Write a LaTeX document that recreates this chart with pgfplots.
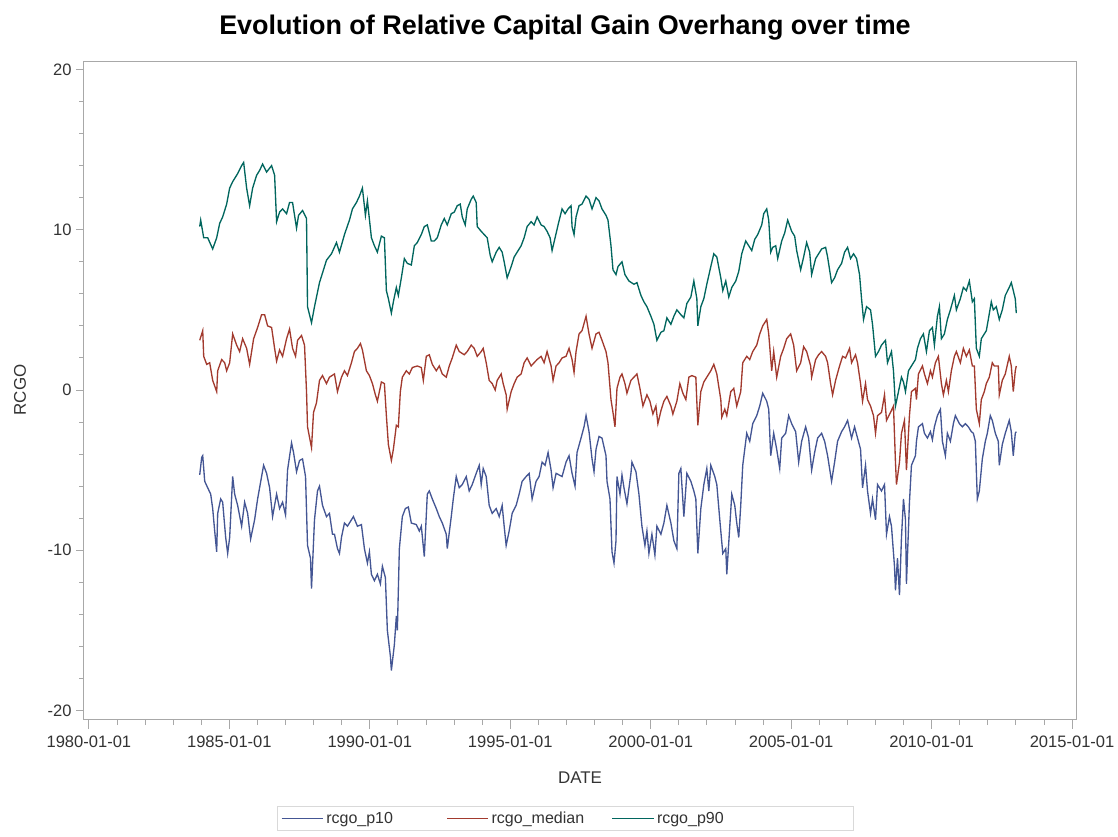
\documentclass[border=0pt]{standalone}
\usepackage{fontspec}
\setmainfont{Liberation Sans}
\usepackage{pgfplots}
\usepackage{pgfplotstable}
\pgfplotsset{compat=1.18}

\definecolor{sasblue}{HTML}{445694}
\definecolor{sasred}{HTML}{A23A2E}
\definecolor{sasteal}{HTML}{01665E}
\definecolor{framegray}{HTML}{A8A8A8}
\definecolor{txt}{HTML}{333333}

% rcgo_p10
\pgfplotstableread{
date value
1983.945 -5.3
1984.016 -4.2
1984.052 -4.1
1984.123 -5.7
1984.229 -6.1
1984.336 -6.5
1984.407 -7.4
1984.478 -8.8
1984.549 -10.1
1984.585 -7.7
1984.691 -6.8
1984.762 -7.0
1984.869 -9.2
1984.940 -10.2
1985.011 -9.2
1985.118 -5.4
1985.189 -6.5
1985.295 -7.2
1985.437 -8.5
1985.544 -7.0
1985.651 -7.7
1985.757 -9.3
1985.899 -8.1
1986.006 -6.8
1986.148 -5.4
1986.219 -4.7
1986.326 -5.2
1986.433 -6.1
1986.539 -7.9
1986.682 -6.5
1986.788 -7.4
1986.895 -7.0
1987.001 -7.8
1987.072 -5.0
1987.214 -3.3
1987.285 -3.9
1987.392 -5.1
1987.498 -4.4
1987.605 -4.3
1987.712 -5.4
1987.783 -9.7
1987.889 -10.5
1987.925 -12.4
1988.031 -8.1
1988.138 -6.3
1988.209 -6.0
1988.316 -7.2
1988.458 -7.9
1988.564 -7.7
1988.671 -9.0
1988.742 -9.0
1988.849 -9.9
1988.920 -10.2
1988.991 -9.2
1989.098 -8.3
1989.204 -8.5
1989.346 -8.1
1989.417 -7.9
1989.560 -8.5
1989.702 -8.4
1989.808 -9.9
1989.915 -10.8
1989.986 -10.1
1990.057 -11.5
1990.164 -11.9
1990.270 -11.5
1990.377 -12.1
1990.448 -11.0
1990.554 -11.7
1990.625 -15.0
1990.732 -16.6
1990.768 -17.5
1990.874 -15.9
1990.945 -14.1
1990.981 -15.0
1991.052 -9.9
1991.158 -7.9
1991.265 -7.4
1991.372 -7.3
1991.478 -8.3
1991.656 -8.4
1991.763 -8.8
1991.834 -8.5
1991.940 -10.4
1992.047 -6.5
1992.118 -6.3
1992.225 -6.8
1992.367 -7.4
1992.473 -7.9
1992.580 -8.3
1992.722 -9.0
1992.758 -9.9
1992.900 -7.9
1992.971 -6.8
1993.077 -5.4
1993.184 -6.1
1993.291 -5.9
1993.433 -5.4
1993.539 -6.3
1993.646 -5.9
1993.788 -5.2
1993.895 -4.7
1993.966 -5.9
1994.037 -4.9
1994.144 -5.4
1994.250 -7.2
1994.357 -7.7
1994.499 -7.4
1994.606 -7.9
1994.712 -7.2
1994.783 -8.5
1994.854 -9.7
1994.961 -8.8
1995.068 -7.7
1995.210 -7.2
1995.316 -6.5
1995.423 -5.7
1995.565 -5.4
1995.672 -5.2
1995.778 -6.8
1995.920 -5.7
1996.027 -5.4
1996.134 -4.5
1996.240 -4.7
1996.347 -3.9
1996.453 -5.0
1996.524 -6.1
1996.631 -5.2
1996.738 -5.3
1996.844 -5.4
1996.986 -4.5
1997.093 -4.1
1997.200 -5.2
1997.306 -6.0
1997.377 -3.9
1997.519 -3.0
1997.626 -2.3
1997.698 -1.6
1997.804 -2.6
1997.911 -4.3
1997.982 -5.1
1998.053 -3.7
1998.160 -2.9
1998.266 -3.0
1998.408 -4.1
1998.444 -5.7
1998.550 -6.8
1998.622 -10.1
1998.693 -10.8
1998.764 -9.4
1998.799 -5.4
1998.906 -6.5
1998.977 -5.3
1999.048 -6.1
1999.154 -7.1
1999.296 -5.2
1999.332 -4.5
1999.474 -5.1
1999.581 -6.5
1999.687 -8.5
1999.794 -9.7
1999.865 -8.8
1999.936 -10.2
2000.043 -9.0
2000.149 -10.3
2000.220 -8.5
2000.363 -9.0
2000.469 -8.3
2000.576 -7.2
2000.718 -8.3
2000.824 -9.4
2000.931 -9.9
2001.002 -5.2
2001.073 -4.9
2001.180 -7.9
2001.287 -5.2
2001.429 -5.7
2001.535 -6.3
2001.606 -6.8
2001.677 -10.2
2001.784 -7.4
2001.891 -5.9
2001.997 -4.9
2002.068 -6.3
2002.139 -4.7
2002.282 -5.4
2002.353 -5.9
2002.459 -8.1
2002.566 -10.2
2002.672 -9.9
2002.708 -11.5
2002.815 -8.5
2002.886 -6.5
2002.992 -7.2
2003.063 -8.3
2003.134 -9.2
2003.205 -7.2
2003.276 -4.7
2003.418 -2.7
2003.525 -3.2
2003.632 -2.1
2003.774 -1.6
2003.881 -1.0
2003.987 -0.2
2004.130 -0.7
2004.201 -1.2
2004.272 -4.1
2004.378 -2.7
2004.485 -3.7
2004.592 -4.9
2004.663 -3.0
2004.805 -2.7
2004.911 -1.6
2005.018 -2.1
2005.160 -2.6
2005.267 -4.5
2005.373 -3.2
2005.515 -2.3
2005.622 -3.0
2005.729 -5.0
2005.835 -3.9
2005.942 -3.0
2006.084 -2.7
2006.191 -3.2
2006.297 -4.1
2006.439 -5.7
2006.546 -4.5
2006.652 -3.2
2006.795 -2.6
2006.901 -2.3
2007.008 -1.9
2007.150 -3.0
2007.257 -2.3
2007.363 -3.0
2007.470 -3.7
2007.541 -6.1
2007.647 -4.7
2007.718 -6.3
2007.825 -7.7
2007.896 -6.8
2008.003 -8.1
2008.074 -5.9
2008.216 -6.3
2008.323 -5.9
2008.394 -9.0
2008.500 -7.9
2008.571 -8.5
2008.678 -11.0
2008.713 -12.5
2008.785 -10.5
2008.856 -12.8
2008.927 -9.2
2008.998 -6.8
2009.069 -8.1
2009.104 -12.1
2009.211 -7.0
2009.282 -4.7
2009.424 -4.1
2009.460 -3.2
2009.531 -2.3
2009.673 -2.1
2009.744 -2.7
2009.851 -3.0
2009.957 -2.6
2010.028 -3.1
2010.099 -2.3
2010.206 -1.6
2010.313 -1.2
2010.384 -3.2
2010.490 -4.1
2010.561 -2.7
2010.668 -3.2
2010.775 -2.1
2010.846 -1.6
2010.988 -2.1
2011.094 -2.3
2011.201 -2.1
2011.308 -2.3
2011.414 -2.6
2011.485 -2.7
2011.556 -3.2
2011.627 -6.8
2011.698 -6.3
2011.805 -4.3
2011.912 -3.2
2011.983 -2.7
2012.089 -1.6
2012.160 -1.9
2012.267 -2.7
2012.374 -3.2
2012.409 -4.7
2012.516 -3.4
2012.622 -2.7
2012.764 -1.9
2012.836 -2.6
2012.907 -4.1
2012.978 -2.7
2013.014 -2.6
}\ptentable

% rcgo_median
\pgfplotstableread{
date value
1983.945 3.1
1984.052 3.7
1984.087 2.1
1984.194 1.6
1984.300 1.7
1984.407 0.6
1984.549 -0.1
1984.585 1.2
1984.727 1.9
1984.833 1.7
1984.904 1.2
1985.011 1.7
1985.118 3.5
1985.260 2.8
1985.366 2.4
1985.473 3.2
1985.615 2.6
1985.722 1.6
1985.864 3.2
1986.006 3.9
1986.148 4.7
1986.255 4.7
1986.362 4.0
1986.504 3.9
1986.611 2.6
1986.682 1.8
1986.788 2.5
1986.895 2.1
1987.037 3.2
1987.143 3.8
1987.250 2.6
1987.357 2.1
1987.428 3.1
1987.570 3.4
1987.676 2.8
1987.747 -0.1
1987.783 -2.3
1987.925 -3.6
1987.996 -1.4
1988.102 -0.8
1988.209 0.6
1988.316 0.9
1988.458 0.4
1988.564 0.8
1988.742 1.0
1988.849 -0.1
1988.991 0.8
1989.098 1.2
1989.204 0.9
1989.346 1.7
1989.453 2.4
1989.560 2.6
1989.666 2.9
1989.737 2.5
1989.879 1.2
1989.986 0.9
1990.093 0.4
1990.199 -0.3
1990.270 -0.7
1990.412 0.5
1990.519 0.4
1990.590 -1.6
1990.661 -3.4
1990.768 -4.4
1990.839 -3.7
1990.945 -2.2
1991.016 -2.3
1991.087 -0.1
1991.158 0.8
1991.300 1.2
1991.407 1.0
1991.514 1.4
1991.692 1.5
1991.834 1.4
1991.905 0.6
1992.011 2.1
1992.118 2.2
1992.225 1.6
1992.367 1.2
1992.473 1.5
1992.580 1.0
1992.722 0.8
1992.829 1.5
1992.935 2.0
1993.077 2.8
1993.184 2.4
1993.362 2.2
1993.468 2.4
1993.610 2.8
1993.717 2.6
1993.824 2.1
1993.966 2.4
1994.037 2.6
1994.144 1.7
1994.250 0.6
1994.357 0.4
1994.464 0.0
1994.535 0.6
1994.677 1.0
1994.748 0.4
1994.854 -0.3
1994.890 -1.2
1995.032 -0.1
1995.139 0.4
1995.245 0.8
1995.387 1.0
1995.494 1.7
1995.601 2.0
1995.743 1.5
1995.849 1.7
1995.956 1.9
1996.098 2.1
1996.205 1.7
1996.311 2.4
1996.453 1.5
1996.524 0.6
1996.631 1.5
1996.738 1.7
1996.844 2.0
1996.986 2.1
1997.093 2.6
1997.200 1.9
1997.271 1.1
1997.342 2.4
1997.449 3.5
1997.555 3.7
1997.698 4.6
1997.804 3.5
1997.911 2.6
1998.053 3.5
1998.160 3.6
1998.266 3.1
1998.408 2.4
1998.479 1.7
1998.586 -0.6
1998.657 -1.4
1998.728 -2.3
1998.799 0.1
1998.906 0.8
1998.977 1.0
1999.083 0.4
1999.154 -0.2
1999.296 0.6
1999.403 0.8
1999.510 1.0
1999.616 0.1
1999.723 -1.0
1999.865 -0.3
1999.972 -0.7
2000.078 -1.5
2000.185 -1.0
2000.256 -2.1
2000.363 -1.3
2000.469 -0.7
2000.576 -0.4
2000.718 -1.0
2000.789 -1.5
2000.931 -0.7
2001.038 0.4
2001.145 -0.2
2001.251 -0.6
2001.358 0.8
2001.464 0.9
2001.606 0.8
2001.677 -2.2
2001.784 -0.1
2001.891 0.5
2001.997 0.8
2002.139 1.2
2002.246 1.6
2002.353 1.0
2002.495 -0.6
2002.530 -1.7
2002.637 -1.2
2002.708 -1.6
2002.850 -0.1
2002.957 0.1
2003.063 -1.0
2003.205 -0.1
2003.276 1.7
2003.418 2.1
2003.525 1.9
2003.632 2.4
2003.774 2.8
2003.881 3.5
2003.987 4.0
2004.130 4.4
2004.201 3.5
2004.307 1.2
2004.378 2.4
2004.485 0.8
2004.627 2.1
2004.734 2.6
2004.840 3.2
2004.982 3.5
2005.089 2.8
2005.196 1.2
2005.338 1.7
2005.444 2.7
2005.551 2.4
2005.693 1.5
2005.729 0.8
2005.871 1.9
2005.977 2.2
2006.084 2.4
2006.226 2.1
2006.297 1.7
2006.404 0.4
2006.475 -0.3
2006.581 0.6
2006.723 1.5
2006.830 2.1
2006.937 2.0
2007.079 2.6
2007.150 1.7
2007.292 2.2
2007.363 1.7
2007.470 0.4
2007.541 -0.7
2007.647 0.4
2007.718 -0.6
2007.825 -1.0
2007.931 -1.6
2008.003 -2.7
2008.074 -1.6
2008.216 -1.4
2008.323 -0.3
2008.394 -1.9
2008.536 -1.4
2008.642 -1.0
2008.713 -4.5
2008.749 -5.9
2008.856 -4.5
2008.927 -2.7
2009.033 -1.9
2009.104 -5.0
2009.211 -1.6
2009.282 -0.1
2009.424 0.1
2009.460 -0.6
2009.531 1.0
2009.673 1.5
2009.744 1.0
2009.851 0.4
2009.957 1.2
2010.028 0.8
2010.135 1.7
2010.241 2.1
2010.348 0.4
2010.419 -0.3
2010.526 0.6
2010.597 -0.1
2010.703 1.2
2010.810 2.1
2010.881 2.4
2011.023 1.7
2011.130 2.6
2011.236 2.1
2011.343 2.5
2011.450 1.5
2011.521 1.5
2011.592 -1.2
2011.698 -2.1
2011.769 -0.6
2011.876 -0.1
2011.947 0.4
2012.054 0.8
2012.160 1.7
2012.231 1.5
2012.374 1.5
2012.409 -0.3
2012.516 0.6
2012.622 1.0
2012.764 2.1
2012.836 1.5
2012.907 -0.1
2012.978 1.2
2013.014 1.5
}\mediantable

% rcgo_p90
\pgfplotstableread{
date value
1983.945 10.2
1983.980 10.6
1984.087 9.5
1984.229 9.5
1984.407 8.8
1984.549 9.5
1984.656 10.4
1984.762 10.8
1984.904 11.6
1985.011 12.6
1985.118 13.0
1985.295 13.5
1985.437 14.0
1985.509 14.2
1985.615 12.6
1985.722 11.5
1985.829 12.6
1985.971 13.4
1986.077 13.7
1986.184 14.1
1986.326 13.6
1986.504 14.0
1986.611 13.4
1986.682 10.5
1986.788 11.1
1986.895 11.3
1987.037 11.0
1987.143 11.7
1987.250 11.7
1987.392 10.1
1987.463 10.9
1987.605 11.2
1987.747 10.7
1987.783 5.2
1987.925 4.2
1988.031 5.2
1988.209 6.7
1988.458 8.1
1988.636 8.5
1988.813 9.2
1988.920 8.6
1989.098 9.7
1989.275 10.6
1989.382 11.3
1989.524 11.7
1989.631 12.1
1989.737 12.6
1989.844 10.9
1989.915 11.8
1990.057 9.5
1990.164 9.0
1990.270 8.6
1990.412 9.6
1990.519 9.5
1990.590 6.2
1990.661 5.7
1990.768 4.8
1990.839 5.5
1990.945 6.4
1991.016 5.9
1991.123 7.0
1991.230 8.2
1991.336 7.9
1991.478 7.8
1991.585 9.0
1991.692 9.2
1991.834 9.7
1991.940 10.2
1992.047 10.3
1992.189 9.3
1992.296 9.3
1992.402 9.5
1992.544 10.3
1992.651 10.7
1992.758 10.3
1992.900 11.0
1993.006 11.1
1993.113 11.5
1993.220 11.6
1993.291 10.8
1993.397 10.3
1993.468 11.3
1993.610 11.9
1993.682 12.1
1993.788 11.7
1993.824 10.2
1993.966 9.9
1994.072 9.7
1994.179 9.5
1994.286 8.4
1994.357 8.0
1994.499 8.6
1994.606 8.9
1994.712 8.6
1994.783 8.0
1994.890 7.0
1995.032 7.7
1995.139 8.3
1995.245 8.6
1995.387 9.0
1995.494 9.5
1995.601 10.2
1995.743 10.5
1995.849 10.3
1995.956 10.8
1996.098 10.3
1996.205 10.2
1996.311 9.9
1996.418 9.5
1996.489 8.7
1996.596 9.5
1996.702 10.3
1996.844 11.3
1996.951 11.0
1997.058 11.3
1997.164 11.5
1997.200 10.2
1997.271 9.7
1997.342 10.8
1997.449 11.5
1997.555 11.6
1997.698 12.1
1997.804 11.9
1997.911 11.3
1998.053 12.0
1998.160 11.8
1998.266 11.3
1998.408 10.9
1998.479 10.6
1998.586 9.0
1998.657 7.5
1998.764 7.2
1998.835 7.7
1998.977 8.0
1999.083 7.2
1999.225 6.8
1999.403 6.6
1999.510 6.7
1999.652 5.9
1999.758 5.5
1999.865 5.2
2000.007 4.6
2000.114 4.1
2000.220 3.1
2000.363 3.6
2000.469 3.7
2000.576 4.5
2000.718 4.1
2000.824 4.6
2000.931 5.0
2001.073 4.7
2001.180 4.5
2001.287 5.4
2001.429 5.8
2001.535 6.8
2001.642 5.7
2001.677 4.0
2001.784 5.2
2001.891 5.7
2001.997 6.6
2002.139 7.7
2002.246 8.5
2002.353 8.3
2002.495 7.0
2002.566 6.2
2002.672 6.8
2002.779 5.8
2002.886 6.4
2003.028 6.8
2003.134 7.4
2003.241 8.5
2003.383 9.3
2003.490 9.0
2003.597 8.7
2003.703 9.4
2003.810 9.7
2003.952 10.3
2004.023 11.0
2004.130 11.3
2004.201 10.6
2004.272 8.6
2004.343 8.9
2004.450 9.0
2004.521 8.2
2004.663 9.3
2004.769 9.8
2004.876 10.6
2005.018 9.9
2005.125 9.6
2005.196 8.7
2005.338 7.5
2005.444 8.3
2005.551 9.2
2005.658 8.6
2005.729 7.2
2005.871 8.2
2005.977 8.5
2006.084 8.8
2006.226 8.9
2006.297 8.3
2006.439 6.7
2006.546 7.0
2006.652 7.5
2006.795 7.9
2006.901 8.6
2007.008 8.9
2007.114 8.2
2007.221 8.5
2007.328 8.2
2007.434 7.2
2007.505 5.7
2007.576 4.4
2007.683 5.2
2007.825 5.0
2007.896 4.1
2008.003 2.1
2008.109 2.4
2008.216 2.8
2008.358 3.1
2008.429 1.7
2008.571 2.4
2008.642 1.2
2008.713 -1.0
2008.820 -0.1
2008.927 0.8
2008.998 0.5
2009.069 -0.1
2009.176 1.2
2009.282 1.5
2009.424 1.9
2009.495 2.6
2009.602 3.2
2009.708 3.5
2009.815 2.4
2009.922 3.7
2010.028 3.9
2010.099 2.8
2010.206 4.6
2010.277 5.2
2010.348 3.2
2010.455 3.5
2010.561 4.4
2010.668 5.0
2010.810 5.9
2010.881 5.0
2011.023 5.7
2011.130 6.4
2011.236 6.2
2011.343 6.8
2011.450 5.5
2011.521 5.7
2011.592 2.6
2011.698 2.1
2011.769 3.2
2011.876 3.5
2011.947 3.7
2012.018 4.4
2012.125 5.5
2012.196 5.0
2012.302 5.2
2012.409 4.4
2012.516 5.0
2012.622 5.9
2012.764 6.4
2012.836 6.7
2012.907 6.2
2012.978 5.7
2013.014 4.8
}\pninetytable

\begin{document}
\begin{tikzpicture}
\useasboundingbox (-62.25pt,-87.75pt) rectangle (776.25pt,539.25pt);
\begin{axis}[
  scale only axis,
  width=744.75pt, height=493.5pt,
  xmin=1979.79, xmax=2015.14,
  ymin=-20.53, ymax=20.53,
  xtick={1980,1985,1990,1995,2000,2005,2010,2015},
  xticklabels={1980-01-01,1985-01-01,1990-01-01,1995-01-01,2000-01-01,2005-01-01,2010-01-01,2015-01-01},
  ytick={-20,-10,0,10,20},
  yticklabels={-20,-10,0,10,20},
  minor x tick num=4, minor y tick num=4,
  tick align=outside, tick pos=left,
  major tick length=5pt, minor tick length=3pt,
  xtick style={/pgfplots/major tick length=7.5pt, /pgfplots/minor tick length=4.5pt},
  axis line style={framegray, line width=0.7pt},
  every tick/.style={framegray, line width=0.7pt},
  tick label style={txt, font=\fontsize{12.4}{14}\selectfont},
  xticklabel style={yshift=-4.5pt},
  title={Evolution of Relative Capital Gain Overhang over time},
  title style={at={(0.4854,1.0547)}, anchor=center, yshift=-8pt, font=\bfseries\fontsize{20.2}{24}\selectfont},
  xlabel={DATE},
  xlabel style={at={(0.5005,-0.0897)}, anchor=center, txt, font=\fontsize{12.7}{15}\selectfont},
  ylabel={RCGO},
  ylabel style={at={(-0.0634,0.5)}, anchor=center, txt, font=\fontsize{12.7}{15}\selectfont},
  legend columns=3,
  legend cell align=left,
  legend image code/.code={\draw[#1] (0pt,0pt) -- (31pt,0pt);},
  legend style={at={(0.4854,-0.1322)}, anchor=north, draw=black!15, line width=0.7pt,
    font=\fontsize{12}{14}\selectfont, text=txt},
]
\addplot[sasblue, line width=1pt] table[x=date, y=value] {\ptentable};
\addlegendentry{\makebox[88pt][l]{rcgo\_p10}}
\addplot[sasred, line width=1pt] table[x=date, y=value] {\mediantable};
\addlegendentry{\makebox[88pt][l]{rcgo\_median}}
\addplot[sasteal, line width=1pt] table[x=date, y=value] {\pninetytable};
\addlegendentry{\makebox[142pt][l]{rcgo\_p90}}
\end{axis}
\end{tikzpicture}
\end{document}
